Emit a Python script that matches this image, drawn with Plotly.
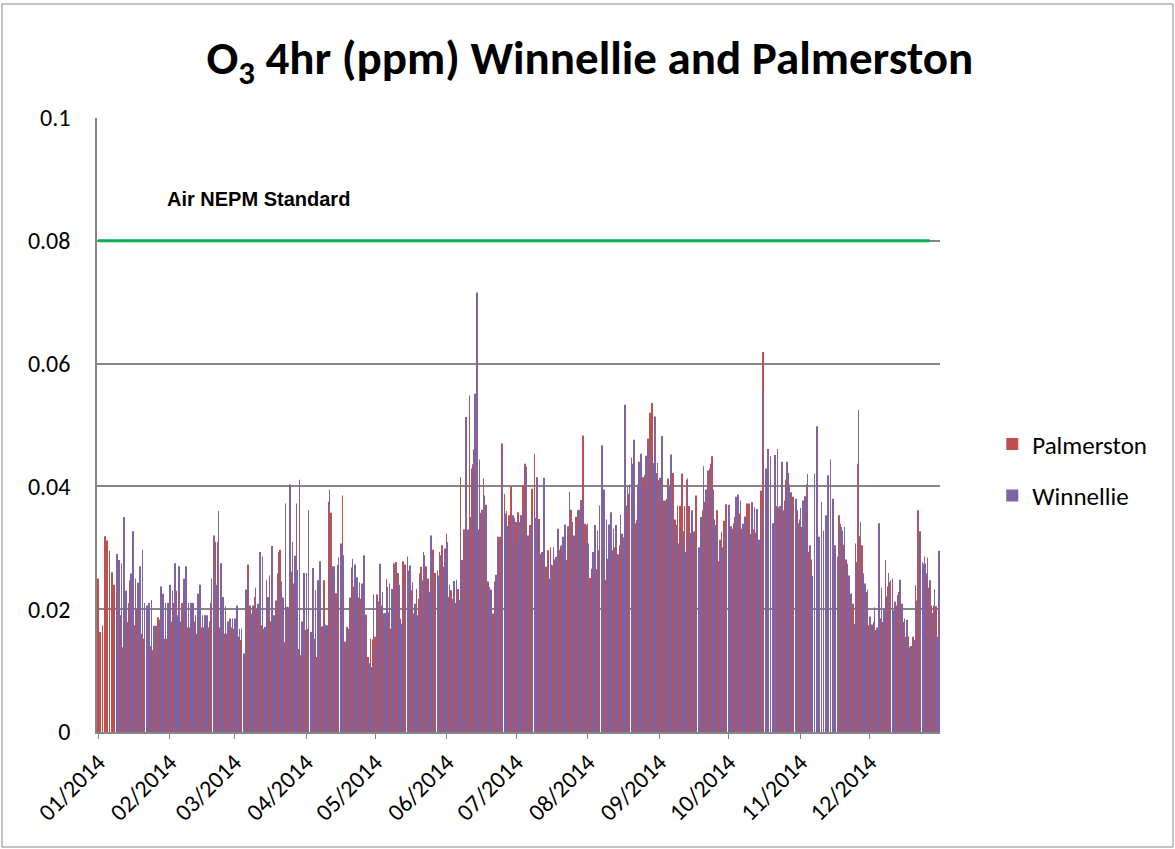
import pandas as pd
import plotly.graph_objects as go

# daily O3 4hr maxima (ppm), one list per month
pal_jan = [0.025, 0.0163, 0.0174, 0.0319, 0.0312, 0.0295, 0.026, 0.024, 0.022, 0.0187,
           0.019, 0.0138, 0.016, 0.0179, 0.0247, 0.020, 0.0174, 0.020, 0.0222, 0.016,
           0.0152, 0.0148, 0.0174, 0.014, 0.0133, 0.0138, 0.0187, 0.0183, 0.0163, 0.0152, 0.0152]
win_jan = [None, None, None, None, None, None, None, None, 0.029, 0.028,
           0.0275, 0.035, 0.023, 0.021, 0.0258, 0.0327, 0.025, 0.0243, 0.027, 0.0297,
           0.021, 0.0206, 0.021, 0.0215, 0.0173, 0.0173, 0.018, 0.0237, 0.0225, 0.021, 0.021]

pal_feb = [0.018, 0.018, 0.021, 0.023, 0.023, 0.018, 0.021, 0.023, 0.017, 0.017,
           0.021, 0.018, 0.016, 0.024, 0.017, 0.017, 0.017, 0.017, 0.021, 0.027,
           0.031, 0.031, 0.017, 0.016, 0.016, 0.016, 0.014, 0.017]
win_feb = [0.024, 0.023, 0.0275, 0.019, 0.027, 0.021, 0.025, 0.027, 0.021, 0.021,
           0.021, 0.019, 0.0225, 0.024, 0.019, 0.019, 0.019, 0.018, 0.025, 0.032,
           0.024, 0.036, 0.0275, 0.022, 0.0205, 0.018, 0.0185, 0.0185]

pal_mar = [0.0168, 0.017, 0.0155, 0.015, 0.0123, 0.0213, 0.0273, 0.0206, 0.0174, 0.022,
           0.0201, 0.0228, 0.0174, 0.0168, 0.0247, 0.022, 0.018, 0.018, 0.0177, 0.0258,
           0.0297, 0.0146, 0.0146, 0.0204, 0.0299, 0.0261, 0.0242, 0.0372, 0.0135, 0.0125, 0.0163]
win_mar = [0.0185, 0.0206, 0.0168, 0.0168, 0.0128, 0.0232, 0.025, 0.0193, 0.0206, 0.0235,
           0.0209, 0.0293, 0.0286, 0.0171, 0.022, 0.0255, 0.0303, 0.019, 0.0214, 0.0293,
           0.0245, 0.0219, 0.0372, 0.0203, 0.0403, 0.031, 0.0287, 0.0264, 0.0411, 0.018, 0.0259]

pal_apr = [0.0166, 0.0168, 0.0144, 0.0152, 0.0152, 0.0122, 0.0206, 0.0172, 0.0247, 0.0152,
           0.0375, 0.0357, 0.0251, 0.0226, 0.0272, 0.0298, 0.0385, 0.0147, 0.0171, 0.0214,
           0.0268, 0.0237, 0.0212, 0.0219, 0.0217, 0.0247, 0.0191, 0.0122, 0.0152, 0.0151]
win_apr = [0.0259, 0.0361, 0.0163, 0.0267, 0.0231, 0.0247, 0.0278, 0.0172, 0.0175, 0.0174,
           0.0395, 0.027, 0.027, 0.0223, 0.0284, 0.0307, 0.0288, 0.0146, 0.0168, 0.0219,
           0.0282, 0.0273, 0.0252, 0.0244, 0.0242, 0.0288, 0.0187, 0.0112, 0.0106, 0.0224]

pal_may = [0.0155, 0.0224, 0.0262, 0.0206, 0.0193, 0.0249, 0.0195, 0.0168, 0.0275, 0.0277,
           0.0259, 0.0185, 0.0278, 0.0273, 0.0286, 0.027, 0.0231, 0.0193, 0.0233, 0.0217,
           0.0269, 0.0293, 0.027, 0.025, 0.0304, 0.0297, 0.0259, 0.0263, 0.0293, 0.0304, 0.0269]
win_may = [0.0138, 0.0213, 0.0274, 0.0228, 0.0194, 0.0236, 0.0242, 0.0233, 0.0274, 0.0258,
           0.024, 0.0176, 0.0271, 0.0236, 0.0263, 0.0271, 0.0244, 0.0209, 0.019, 0.0258,
           0.0247, 0.0288, 0.0259, 0.0228, 0.032, 0.0288, 0.0239, 0.0255, 0.0288, 0.0269, 0.0299]

pal_jun = [0.0323, 0.022, 0.0231, 0.0236, 0.021, 0.0233, 0.0415, 0.028, 0.033, 0.0315,
           0.0548, 0.0429, 0.046, 0.054, 0.033, 0.0357, 0.0413, 0.037, 0.0245, 0.0218,
           0.0193, 0.0245, 0.0293, 0.0318, 0.047, 0.0388, 0.036, 0.0353, 0.040, 0.0353]
win_jun = [0.0309, 0.024, 0.0217, 0.0246, 0.0248, 0.0215, 0.028, 0.033, 0.0513, 0.033,
           0.035, 0.0436, 0.0551, 0.0716, 0.0444, 0.0362, 0.0385, 0.0364, 0.0236, 0.0232,
           0.0188, 0.0256, 0.0318, 0.0312, 0.0461, 0.0356, 0.0336, 0.0345, 0.0353, 0.0349]

pal_jul = [0.0342, 0.0358, 0.034, 0.0402, 0.0437, 0.0313, 0.0337, 0.0396, 0.0453, 0.0399,
           0.0347, 0.029, 0.0394, 0.0269, 0.0296, 0.0301, 0.0271, 0.0281, 0.0262, 0.0297,
           0.0304, 0.0309, 0.028, 0.0335, 0.0362, 0.0293, 0.035, 0.0361, 0.0377, 0.0483, 0.0339]
win_jul = [0.0312, 0.0342, 0.0353, 0.0371, 0.0432, 0.032, 0.0333, 0.035, 0.0349, 0.0415,
           0.0339, 0.0293, 0.0414, 0.0266, 0.025, 0.0273, 0.0301, 0.0285, 0.0331, 0.0303,
           0.0318, 0.0338, 0.0335, 0.0391, 0.0342, 0.032, 0.0335, 0.0362, 0.0378, 0.0375, 0.0337]

pal_aug = [0.0339, 0.0251, 0.0266, 0.0319, 0.0265, 0.0296, 0.0407, 0.0285, 0.0248, 0.0282,
           0.0331, 0.0296, 0.0301, 0.029, 0.0304, 0.0323, 0.0331, 0.0369, 0.0388, 0.0447,
           0.045, 0.034, 0.0403, 0.0405, 0.0415, 0.0418, 0.0476, 0.052, 0.0536, 0.044, 0.0422]
win_aug = [0.0307, 0.024, 0.0293, 0.0337, 0.0328, 0.0369, 0.0467, 0.0395, 0.0346, 0.0338,
           0.0358, 0.0331, 0.0337, 0.0289, 0.0354, 0.0317, 0.0533, 0.040, 0.0403, 0.0437,
           0.0476, 0.0345, 0.044, 0.0453, 0.0402, 0.045, 0.0478, 0.0453, 0.0438, 0.0514, 0.0438]

pal_sep = [0.041, 0.0384, 0.0377, 0.0377, 0.0413, 0.0415, 0.0422, 0.0346, 0.0369, 0.0368,
           0.0421, 0.0368, 0.0411, 0.0368, 0.0355, 0.0326, 0.0385, 0.0286, 0.0349, 0.0361,
           0.0375, 0.0381, 0.0429, 0.0449, 0.0346, 0.0361, 0.0278, 0.0326, 0.0344, 0.0371]
win_sep = [0.0414, 0.0482, 0.0377, 0.038, 0.0399, 0.0452, 0.0375, 0.0337, 0.0307, 0.0304,
           0.0327, 0.0293, 0.0413, 0.0324, 0.0361, 0.0327, 0.0311, 0.0301, 0.035, 0.0433,
           0.0395, 0.0426, 0.0437, 0.0395, 0.0337, 0.0339, 0.0313, 0.0301, 0.0339, 0.0366]

pal_oct = [0.0315, 0.033, 0.0331, 0.035, 0.036, 0.0356, 0.0331, 0.034, 0.0372, 0.0372,
           0.0345, 0.033, 0.0325, 0.0313, 0.0393, 0.0619, None, None, None, None,
           None, 0.0368, 0.0366, 0.0407, 0.0361, 0.0411, 0.0422, 0.039, 0.0383, 0.0375, 0.0361]
win_oct = [0.037, 0.0335, 0.034, 0.0383, 0.0387, 0.0377, 0.0339, 0.0351, 0.0345, 0.0323,
           0.0374, 0.0366, 0.0363, 0.0313, 0.0366, 0.0554, 0.0429, 0.0461, 0.0449, 0.034,
           0.0451, 0.0461, 0.0368, 0.044, 0.0377, 0.044, 0.0403, 0.0391, 0.0377, 0.038, 0.034]

pal_nov = [0.0346, 0.0334, 0.036, 0.0403, 0.0293, 0.0281, None, None, None, None,
           None, None, None, None, None, None, None, 0.0353, 0.0334, 0.0305,
           0.0281, 0.0252, 0.0225, 0.0209, 0.0307, 0.0437, 0.0319, 0.0304, 0.023, 0.0228]
win_nov = [0.0365, 0.0377, 0.0384, 0.042, 0.0304, 0.0254, 0.0421, 0.0498, 0.0318, 0.0375,
           0.0328, 0.0353, 0.0418, 0.0444, 0.038, 0.0304, 0.0286, 0.0339, 0.0328, 0.0334,
           0.0274, 0.0255, 0.0226, 0.0176, 0.0277, 0.0524, 0.0342, 0.0258, 0.0242, 0.0232]

pal_dec = [0.0174, 0.0168, 0.0179, 0.0166, 0.0309, 0.0185, 0.0179, 0.028, 0.0237, 0.0244,
           0.025, 0.0206, 0.0206, 0.0228, 0.0171, 0.0179, 0.0155, 0.0156, 0.014, 0.0155,
           0.0239, 0.0361, 0.0327, 0.0277, 0.0286, 0.0258, 0.0235, 0.0206, 0.0206, 0.0205, 0.0205]
win_dec = [0.0188, 0.0175, 0.0203, 0.017, 0.034, 0.0235, 0.020, 0.0221, 0.0259, 0.0247,
           0.0198, 0.0212, 0.0223, 0.0248, 0.0209, 0.0185, 0.0183, 0.0138, 0.014, 0.015,
           0.0214, 0.0355, 0.0324, 0.0274, 0.0274, 0.0284, 0.0247, 0.0194, 0.0233, 0.0155, 0.0295]

nepm_dates = ["2014-01-01", "2014-12-27"]
nepm_level = [0.08, 0.08]

palmerston = (pal_jan + pal_feb + pal_mar + pal_apr + pal_may + pal_jun
              + pal_jul + pal_aug + pal_sep + pal_oct + pal_nov + pal_dec)
winnellie = (win_jan + win_feb + win_mar + win_apr + win_may + win_jun
             + win_jul + win_aug + win_sep + win_oct + win_nov + win_dec)
days = pd.date_range("2014-01-01", "2014-12-31", freq="D")

FONT = "Carlito, Calibri, Lato, sans-serif"
GRID = "#868686"

fig = go.Figure()
fig.add_trace(go.Bar(x=days, y=palmerston, name="Palmerston", marker_color="#C0504D",
                     marker_line_width=0, legendgroup="p"))
fig.add_trace(go.Bar(x=days, y=winnellie, name="Winnellie", marker_color="#8064A2",
                     marker_line_width=0, legendgroup="w"))
fig.add_trace(go.Scatter(x=nepm_dates, y=nepm_level, mode="lines", showlegend=False,
                         line=dict(color="#00B050", width=3), hoverinfo="skip"))

fig.add_annotation(text="Air NEPM Standard", xref="paper", x=0.081, xanchor="left",
                   yref="y", y=0.0868, yanchor="middle", showarrow=False,
                   font=dict(family="Liberation Sans, Arial", size=20, color="black", weight="bold"))

# outer chart border
fig.add_shape(type="rect", xref="paper", yref="paper", x0=-0.1127, x1=1.2764,
              y0=-0.1873, y1=1.1857, line=dict(color="#888888", width=1))

fig.update_layout(
    width=1175, height=849,
    margin=dict(l=97, r=235, t=118, b=117),
    paper_bgcolor="white", plot_bgcolor="white",
    barmode="group", bargap=0.45, bargroupgap=0,
    font=dict(family=FONT, size=22, color="black"),
    title=dict(text="O<sub>3</sub> 4hr (ppm) Winnellie and Palmerston", x=0.502, xanchor="center",
               y=0.932, yanchor="middle", font=dict(family=FONT, size=47, color="black", weight="bold")),
    legend=dict(x=1.062, xanchor="left", y=0.427, yanchor="middle", traceorder="grouped",
                tracegroupgap=16, font=dict(family=FONT, size=25, color="black")),
    showlegend=True,
)
fig.update_xaxes(type="date", range=["2013-12-31 12:00", "2014-12-31 12:00"],
                 dtick="M1", tick0="2014-01-01", tickformat="%m/%Y", tickangle=-45,
                 showgrid=False, showline=True, linecolor=GRID, linewidth=1.5,
                 ticks="outside", ticklen=5, tickcolor=GRID, automargin=False,
                 tickfont=dict(family=FONT, size=24, color="black"))
fig.update_yaxes(range=[0, 0.1], dtick=0.02, showgrid=True, gridcolor=GRID, gridwidth=1.5,
                 showline=True, linecolor=GRID, linewidth=1.5, zeroline=False,
                 ticks="", ticklabelstandoff=20, automargin=False,
                 tickfont=dict(family=FONT, size=24, color="black"))

fig.write_html("out.html", config={"displayModeBar": False},
               post_script="document.body.style.margin='0';")
